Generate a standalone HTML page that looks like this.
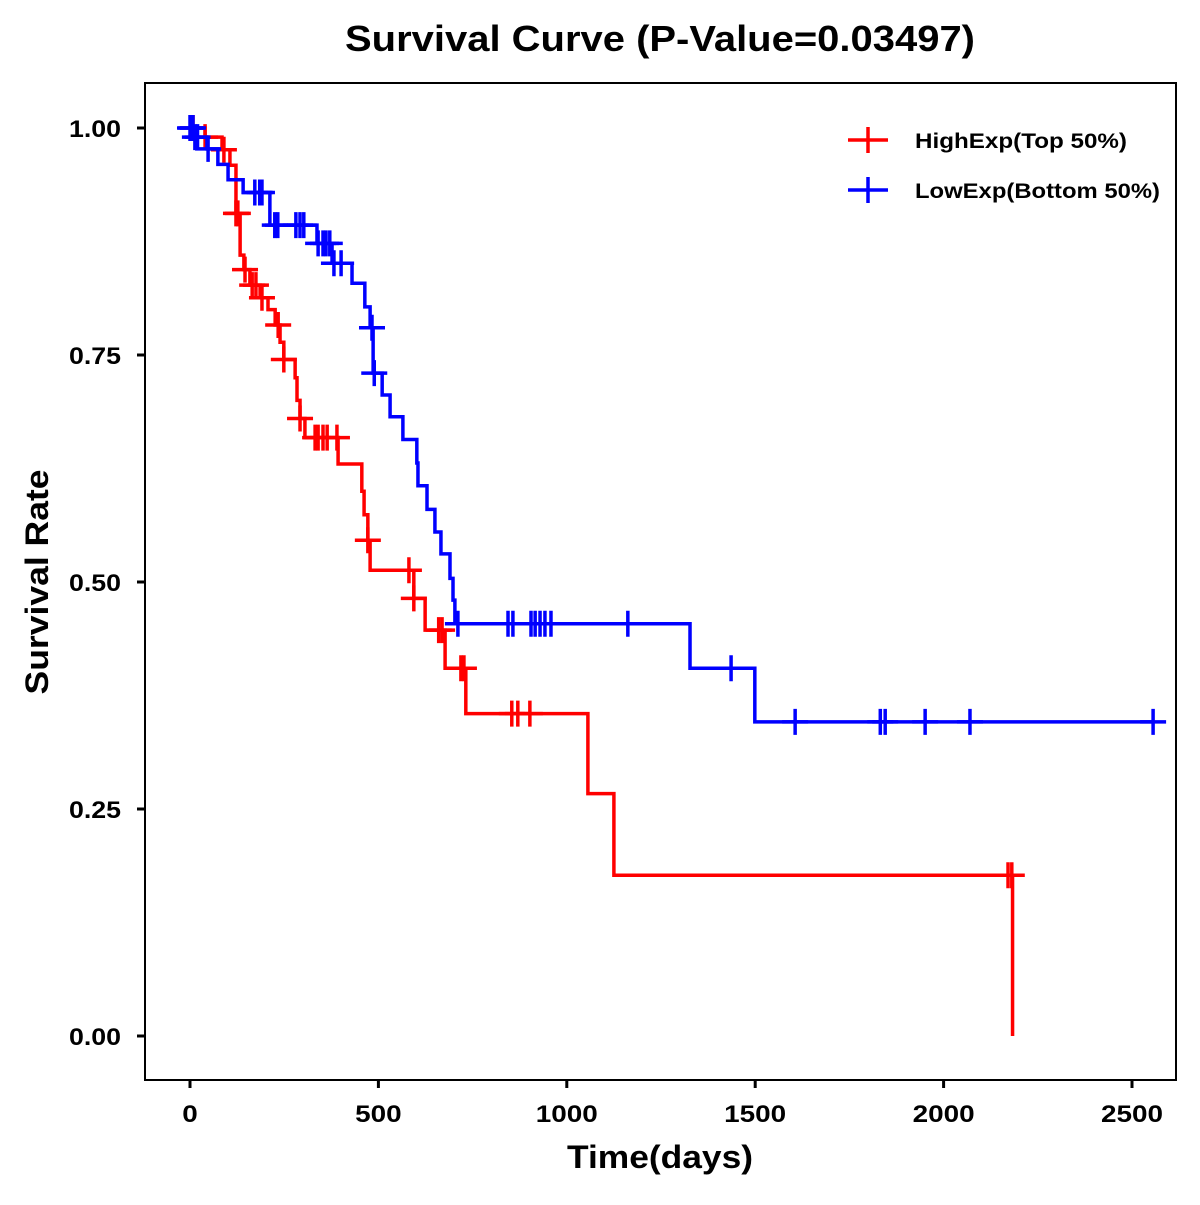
<!DOCTYPE html>
<html><head><meta charset="utf-8"><style>
body{margin:0;background:#fff}
svg text{font-family:"Liberation Sans",Arial,sans-serif;font-weight:bold}
</style></head><body>
<svg id="chart" width="1200" height="1200" viewBox="0 0 1200 1200" xmlns="http://www.w3.org/2000/svg">
<rect width="1200" height="1200" fill="#fff"/>
<text x="660" y="51" font-size="36" text-anchor="middle" textLength="630" lengthAdjust="spacingAndGlyphs">Survival Curve (P-Value=0.03497)</text>
<rect x="145" y="83" width="1031" height="997" fill="none" stroke="#000" stroke-width="2"/>
<g id="axes"></g>
<g id="series"></g>
<text x="660" y="1168" font-size="32" text-anchor="middle" textLength="186" lengthAdjust="spacingAndGlyphs">Time(days)</text>
<text transform="translate(48,582) rotate(-90)" font-size="32" text-anchor="middle" textLength="225" lengthAdjust="spacingAndGlyphs">Survival Rate</text>
<g>
<g>
<line x1="848" y1="140" x2="888" y2="140" stroke="#ff0000" stroke-width="3.5"/>
<line x1="868" y1="127" x2="868" y2="153" stroke="#ff0000" stroke-width="3.5"/>
<text x="915" y="148" font-size="21" textLength="212" lengthAdjust="spacingAndGlyphs">HighExp(Top 50%)</text></g>
<g>
<line x1="848" y1="190" x2="888" y2="190" stroke="#0000ff" stroke-width="3.5"/>
<line x1="868" y1="177" x2="868" y2="203" stroke="#0000ff" stroke-width="3.5"/>
<text x="915" y="198" font-size="21" textLength="245" lengthAdjust="spacingAndGlyphs">LowExp(Bottom 50%)</text></g>
</g>
</svg>
<script>
const xTicks=[0,500,1000,1500,2000,2500];
const yTicks=[0,0.25,0.5,0.75,1.0];
const yTickLabels=["0.00","0.25","0.50","0.75","1.00"];
const highTimes=[0,40,85,106,122,133,143,159,186,207,226,239,249,279,284,292,305,393,456,462,472,478,594,624,677,732,1056,1125,2183];
const highSurv=[1,0.99,0.976,0.959,0.906,0.86,0.844,0.827,0.813,0.80,0.783,0.764,0.745,0.725,0.70,0.68,0.659,0.63,0.60,0.574,0.546,0.513,0.482,0.447,0.405,0.355,0.267,0.177,0];
const highCensor=[8,40,90,122,127,146,165,175,191,234,249,292,332,340,353,364,390,472,581,594,660,669,719,727,854,870,902,2171,2181];
const lowTimes=[0,13,45,74,101,141,212,337,377,430,464,478,486,510,531,565,602,605,629,650,666,690,698,703,1327,1499];
const lowSurv=[1,0.99,0.977,0.96,0.943,0.929,0.893,0.873,0.851,0.829,0.803,0.78,0.73,0.706,0.682,0.657,0.631,0.606,0.58,0.555,0.531,0.504,0.48,0.454,0.405,0.346];
const lowCensor=[0,3,8,13,20,48,172,185,191,225,233,281,292,302,340,353,361,371,382,401,483,489,711,844,857,905,916,929,942,958,1162,1436,1606,1832,1845,1951,2070,2556];
const NS="http://www.w3.org/2000/svg";
const X=t=>190+t*0.3768, Y=s=>1036-s*908;
function mk(tag,attrs,parent){const e=document.createElementNS(NS,tag);for(const k in attrs)e.setAttribute(k,attrs[k]);parent.appendChild(e);return e;}
const axes=document.getElementById('axes'), series=document.getElementById('series');
xTicks.forEach(v=>{
  const l=mk('line',{x1:X(v),x2:X(v),y1:1080,y2:1088,stroke:'#000','stroke-width':3},axes);
  
  
  const s=String(v);
  const t=mk('text',{x:X(v),y:1122,'font-size':24,'text-anchor':'middle',textLength:s.length*15.5,lengthAdjust:'spacingAndGlyphs'},axes);t.textContent=s;
  
  
});
yTicks.forEach((v,i)=>{
  const l=mk('line',{x1:137,x2:145,y1:Y(v),y2:Y(v),stroke:'#000','stroke-width':3},axes);
  
  
  const t=mk('text',{x:121,y:Y(v)+9,'font-size':24,'text-anchor':'end',textLength:52,lengthAdjust:'spacingAndGlyphs'},axes);t.textContent=yTickLabels[i];
  
  
});
function survAt(times,surv,t){let s=surv[0];for(let i=0;i<times.length;i++){if(times[i]<=t)s=surv[i];}return s;}
function draw(times,surv,cens,color,name){
  const g=mk('g',{},series);
  
  
  const tEnd=Math.max(times[times.length-1],cens[cens.length-1]);
  let d='M'+X(times[0])+','+Y(surv[0]);
  for(let i=1;i<times.length;i++){d+=' H'+X(times[i])+' V'+Y(surv[i]);}
  if(surv[surv.length-1]>0) d+=' H'+X(tEnd);
  const p=mk('path',{d:d,fill:'none',stroke:color,'stroke-width':3.5},g);
  
  
  cens.forEach(t=>{
    const s=survAt(times,surv,t);const cx=X(t),cy=Y(s);
    const c=mk('path',{d:'M'+(cx-13)+','+cy+' H'+(cx+13)+' M'+cx+','+(cy-13)+' V'+(cy+13),stroke:color,'stroke-width':3.5,fill:'none'},g);
    
    
  });
}
draw(highTimes,highSurv,highCensor,'#ff0000','high-exp');
draw(lowTimes,lowSurv,lowCensor,'#0000ff','low-exp');
</script>
</body></html>
